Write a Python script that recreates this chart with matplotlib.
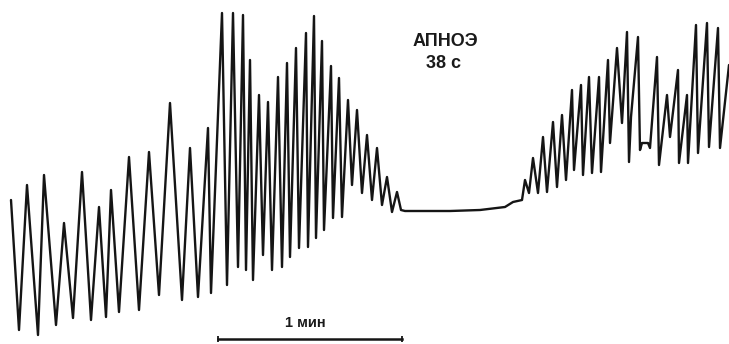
import matplotlib
matplotlib.use("Agg")
import matplotlib.pyplot as plt

# Breathing trace: turning points (peaks / troughs).
# time in chart units (1 min = 185 units), level measured downward from top edge
time = [11, 19, 27, 38, 44, 56, 64, 73, 82, 91, 99, 106, 111, 119, 129, 139,
        149, 159, 170, 182, 190, 198, 208, 211, 222, 227, 233, 238, 243, 246,
        250, 253, 259, 263, 268, 272, 278, 282, 287, 290, 296, 299, 306, 308,
        314, 316, 322, 324, 331, 333, 339, 342, 348, 352, 357, 362, 367, 372,
        377, 382, 387, 392, 397, 401,
        405, 450, 480, 505, 513, 522,
        525, 529, 533, 538, 543, 547, 553, 557, 562, 566, 572, 574, 581, 583,
        589, 592, 599, 601, 608, 610, 617, 622, 627, 629, 631, 638, 640, 642,
        648, 650, 657, 659, 667, 670, 678, 679, 687, 688, 696, 698, 707, 709,
        718, 720, 729]
level = [200, 330, 185, 335, 175, 325, 223, 318, 172, 320, 207, 317, 190, 312, 157, 310,
         152, 295, 103, 300, 148, 297, 128, 293, 13, 285, 13, 267, 15, 270,
         60, 280, 95, 255, 102, 270, 77, 267, 63, 257, 48, 248, 33, 247,
         16, 238, 41, 230, 66, 218, 78, 217, 100, 185, 110, 193, 135, 200,
         148, 205, 177, 212, 192, 210,
         211, 211, 210, 207, 202, 200,
         180, 193, 158, 193, 137, 192, 122, 187, 115, 180, 90, 170, 85, 175,
         77, 173, 77, 172, 60, 143, 48, 123, 32, 162, 117, 37, 150, 143,
         143, 148, 57, 165, 95, 137, 70, 163, 95, 163, 25, 153, 23, 147,
         28, 148, 65]

apnea_label = "АПНОЭ"
apnea_duration = "38 с"
scale_label = "1 мин"
scale_bar = [218, 402]

fig = plt.figure(figsize=(7.29, 3.44), dpi=100)
ax = fig.add_axes([0, 0, 1, 1])

ax.plot(time, level, color="#151515", lw=1.7, solid_joinstyle="round",
        solid_capstyle="round")

fonts = ["Liberation Sans", "DejaVu Sans"]
ax.text(445, 41, apnea_label, ha="center", va="center", fontsize=13,
        fontweight="bold", family=fonts, color="#1a1a1a")
ax.text(444, 64, apnea_duration, ha="center", va="center", fontsize=13,
        fontweight="bold", family=fonts, color="#1a1a1a")

# 1 min scale bar
ax.plot(scale_bar, [339, 339], color="#151515", lw=1.8,
        marker="|", markersize=5, markeredgewidth=1.3)
ax.text(sum(scale_bar) / 2 - 5, 323, scale_label, ha="center", va="center",
        fontsize=10.5, fontweight="bold", family=fonts, color="#1a1a1a")

ax.set_xlim(0, 729)
ax.set_ylim(344, 0)
ax.axis("off")

fig.savefig("out.png", dpi=100, facecolor="white")
